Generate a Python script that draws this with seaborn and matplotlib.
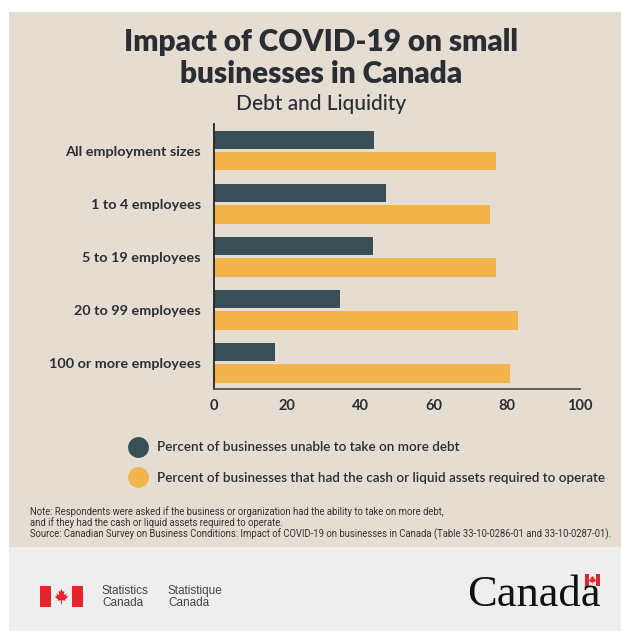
import matplotlib
matplotlib.use("Agg")
import matplotlib.pyplot as plt
from matplotlib.patches import Rectangle, Polygon
from matplotlib.lines import Line2D
import seaborn as sns
import pandas as pd

# Survey results (percent of businesses)
categories = [
    "All employment sizes",
    "1 to 4 employees",
    "5 to 19 employees",
    "20 to 99 employees",
    "100 or more employees",
]
unable_more_debt = [43.9, 47.2, 43.4, 34.4, 16.8]
had_cash_liquid = [77.0, 75.4, 77.0, 83.2, 80.9]
series_labels = [
    "Percent of businesses unable to take on more debt",
    "Percent of businesses that had the cash or liquid assets required to operate",
]
x_ticks = [0, 20, 40, 60, 80, 100]

BEIGE = "#E6DDD2"
DARK = "#3A4F55"
GOLD = "#F1B54B"
TEXT = "#2A2E33"
FOOTER = "#EEEEEE"

df = pd.DataFrame({
    "category": categories * 2,
    "value": unable_more_debt + had_cash_liquid,
    "series": [series_labels[0]] * len(categories) + [series_labels[1]] * len(categories),
})

sns.set_theme(style="white")
plt.rcParams["font.family"] = ["Lato", "DejaVu Sans"]

W, H = 623, 631
fig = plt.figure(figsize=(W / 100, H / 100), dpi=100, facecolor="white")

def fx(px):
    return px / W

def fy(py):
    return 1 - py / H

# Panel backgrounds (behind the axes)
fig.patches.append(Rectangle((fx(9), fy(547)), fx(612), 535 / H, transform=fig.transFigure,
                             facecolor=BEIGE, edgecolor="none", zorder=-5))
fig.patches.append(Rectangle((fx(9), 0), fx(612), 84 / H, transform=fig.transFigure,
                             facecolor=FOOTER, edgecolor="none", zorder=-5))

ax = fig.add_axes([fx(213.5), fy(389.3), fx(366.5), (389.3 - 124) / H])
ax.set_facecolor("none")

sns.barplot(data=df, y="category", x="value", hue="series", orient="h",
            palette=[DARK, GOLD], width=0.8, gap=0.12, ax=ax, linewidth=0,
            saturation=1, legend=False, order=categories, hue_order=series_labels)

ax.set_xlim(0, 100)
ax.set_ylim(4.5, -0.5)
ax.set_xticks(x_ticks)
ax.set_xticklabels([str(t) for t in x_ticks])
ax.set_xlabel("")
ax.set_ylabel("")
for s in ["top", "right"]:
    ax.spines[s].set_visible(False)
ax.spines["left"].set_color("#222222")
ax.spines["left"].set_linewidth(1.3)
ax.spines["bottom"].set_color("#555555")
ax.spines["bottom"].set_linewidth(1.3)
ax.tick_params(axis="x", direction="in", length=5, width=1.2, color="#555555",
               labelsize=10.5, labelcolor=TEXT, pad=7)
ax.tick_params(axis="y", length=0, labelsize=10.4, labelcolor=TEXT, pad=9)
for lbl in ax.get_yticklabels():
    lbl.set_fontweight("bold")
for lbl in ax.get_xticklabels():
    lbl.set_fontweight("bold")

# Titles
fig.text(0.516, fy(42), "Impact of COVID-19 on small", ha="center", va="center",
         fontsize=21.4, fontweight="heavy", color=TEXT)
fig.text(0.516, fy(74), "businesses in Canada", ha="center", va="center",
         fontsize=21.4, fontweight="heavy", color=TEXT)
fig.text(0.516, fy(104), "Debt and Liquidity", ha="center", va="center",
         fontsize=15, fontweight="medium", color=TEXT)

# Legend
handles = [Line2D([], [], marker="o", linestyle="none", markersize=15,
                  markerfacecolor=c, markeredgecolor="none") for c in (DARK, GOLD)]
leg = fig.legend(handles, series_labels, loc="upper left",
                 bbox_to_anchor=(fx(119), fy(436)), frameon=False,
                 handletextpad=0.4, labelspacing=1.38, borderaxespad=0, fontsize=9.7)
for t in leg.get_texts():
    t.set_color(TEXT)
    t.set_fontweight("semibold")

# Notes
note_font = ["Roboto", "DejaVu Sans"]
notes = [
    "Note: Respondents were asked if the business or organization had the ability to take on more debt,",
    "and if they had the cash or liquid assets required to operate.",
    "Source: Canadian Survey on Business Conditions: Impact of COVID-19 on businesses in Canada (Table 33-10-0286-01 and 33-10-0287-01).",
]
for i, line in enumerate(notes):
    fig.text(fx(30), fy(512 + 11 * i), line, ha="left", va="center", fontsize=6.85,
             family=note_font, color="#333333")

# Footer: flag symbol and wordmarks
def flag(x0, y0, w, h):
    fig.patches.append(Rectangle((fx(x0), fy(y0 + h)), fx(w / 4), h / H,
                                 transform=fig.transFigure, facecolor="#E3262B", edgecolor="none"))
    fig.patches.append(Rectangle((fx(x0 + 3 * w / 4), fy(y0 + h)), fx(w / 4), h / H,
                                 transform=fig.transFigure, facecolor="#E3262B", edgecolor="none"))
    cx, cy = x0 + w / 2, y0 + h / 2
    s = h / 20.0
    leaf = [(0, -8), (1.2, -5), (3, -6), (2.4, -1.5), (5.5, -3), (4.8, -0.6), (7, 0.4),
            (3.6, 3.2), (4.2, 4.5), (0.5, 4), (0.5, 8), (-0.5, 8), (-0.5, 4), (-4.2, 4.5),
            (-3.6, 3.2), (-7, 0.4), (-4.8, -0.6), (-5.5, -3), (-2.4, -1.5), (-3, -6), (-1.2, -5)]
    pts = [(fx(cx + px * s * 0.9), fy(cy + py * s * 0.9)) for px, py in leaf]
    fig.patches.append(Polygon(pts, closed=True, transform=fig.transFigure,
                               facecolor="#E3262B", edgecolor="none"))

flag(40, 586, 43, 21)
for x0, words in ((102, ("Statistics", "Canada")), (168, ("Statistique", "Canada"))):
    fig.text(fx(x0), fy(591), words[0], ha="left", va="center", fontsize=8.5,
             family=["Liberation Sans", "DejaVu Sans"], color="#444444")
    fig.text(fx(x0), fy(603), words[1], ha="left", va="center", fontsize=8.5,
             family=["Liberation Sans", "DejaVu Sans"], color="#444444")
fig.text(fx(467), fy(606), "Canada", ha="left", va="baseline", fontsize=32,
         family=["Liberation Serif", "DejaVu Serif"], color="#111111")
flag(585, 574, 15, 12)

fig.savefig("out.png", dpi=100, facecolor="white")
